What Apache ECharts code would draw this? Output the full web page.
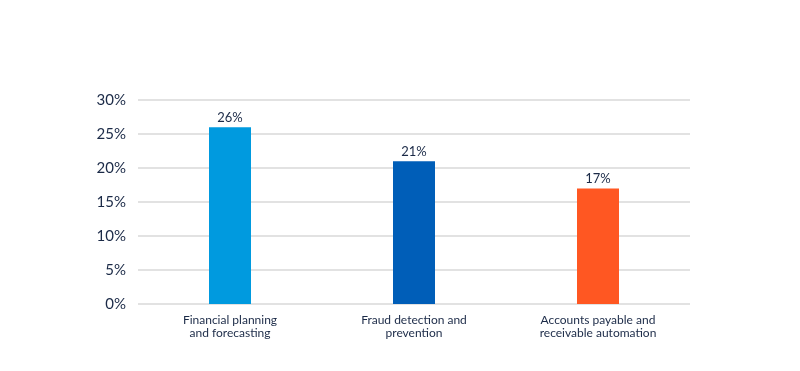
<!DOCTYPE html>
<html><head><meta charset="utf-8">
<script src="https://cdn.jsdelivr.net/npm/echarts@6/dist/echarts.min.js"></script>
<style>html,body{margin:0;padding:0;background:#fff}#c{width:800px;height:371px}</style>
</head><body><div id="c"></div>
<script>
const categories = ["Financial planning\nand forecasting", "Fraud detection and\nprevention", "Accounts payable and\nreceivable automation"];
const values = [26, 21, 17];
const colors = ["#009ADF", "#005EB8", "#FF5722"];
const chart = echarts.init(document.getElementById('c'));
chart.setOption({
  animation: false,
  textStyle: {fontFamily: 'Lato'},
  grid: {left: 138, right: 110, top: 100, bottom: 67},
  xAxis: {
    type: 'category', data: categories,
    axisLine: {show: false}, axisTick: {show: false},
    axisLabel: {color: '#1b2a47', fontSize: 12, lineHeight: 13, margin: 10, fontFamily: 'Lato'}
  },
  yAxis: {
    type: 'value', min: 0, max: 30, interval: 5,
    axisLabel: {formatter: '{value}%', color: '#1b2a47', fontSize: 15, margin: 12, fontFamily: 'Lato'},
    axisLine: {show: false}, axisTick: {show: false},
    splitLine: {lineStyle: {color: '#d9d9d9', width: 1.5}}
  },
  series: [{
    type: 'bar', barWidth: 42,
    data: values.map((v, i) => ({value: v, itemStyle: {color: colors[i]}})),
    label: {show: true, position: 'top', formatter: '{c}%', color: '#1b2a47', fontSize: 13, distance: 3, fontFamily: 'Lato'}
  }]
});
</script></body></html>
